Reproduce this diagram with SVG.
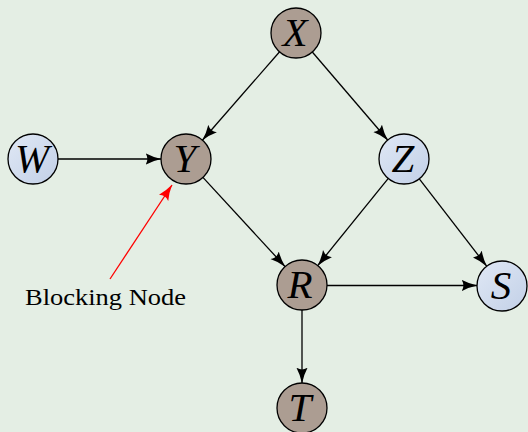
<svg xmlns="http://www.w3.org/2000/svg" width="528" height="432" viewBox="0 0 528 432">
  <defs>
    <linearGradient id="blueFill" x1="0" y1="0" x2="1" y2="1">
      <stop offset="0" stop-color="#e0e8f5"/>
      <stop offset="1" stop-color="#c2d0e7"/>
    </linearGradient>
    <marker id="arrow" viewBox="0 0 16 12" refX="15.5" refY="6" markerWidth="16" markerHeight="12" markerUnits="userSpaceOnUse" orient="auto">
      <path d="M0,0.3 Q7,4.2 16,6 Q7,7.8 0,11.7 Q3.8,6 0,0.3 Z" fill="#000"/>
    </marker>
    <marker id="arrowRed" viewBox="0 0 16 12" refX="15.5" refY="6" markerWidth="16" markerHeight="12" markerUnits="userSpaceOnUse" orient="auto">
      <path d="M0,0.3 Q7,4.2 16,6 Q7,7.8 0,11.7 Q3.8,6 0,0.3 Z" fill="#ff0000"/>
    </marker>
  </defs>
  <style>
    .node circle { stroke: #000; stroke-width: 1.3; }
    .dark circle { fill: #ac9d92; }
    .light circle { fill: url(#blueFill); }
    .node text { font-family: "Liberation Serif", "DejaVu Serif", serif; font-style: italic; font-size: 41px; text-anchor: middle; fill: #000; }
    .edge { stroke: #000; stroke-width: 1.3; fill: none; marker-end: url(#arrow); }
    .label { font-family: "Liberation Serif", "DejaVu Serif", serif; font-size: 23px; fill: #000; }
  </style>

  <rect width="528" height="432" fill="#e4eee4"/>

  <g id="connectors">
    <line class="edge" x1="279.6" y1="51.8" x2="202.4" y2="140.2"/>
    <line class="edge" x1="312.3" y1="52.0" x2="387.7" y2="140.0"/>
    <line class="edge" x1="58" y1="159" x2="161" y2="159"/>
    <line class="edge" x1="202.9" y1="177.4" x2="285.1" y2="266.6"/>
    <line class="edge" x1="388.3" y1="178.4" x2="317.7" y2="265.6"/>
    <line class="edge" x1="419.3" y1="178.8" x2="486.7" y2="266.2"/>
    <line class="edge" x1="327" y1="285.5" x2="477" y2="285.5"/>
    <line class="edge" x1="302" y1="310" x2="302" y2="383"/>
    <line x1="110" y1="279" x2="172" y2="185" stroke="#ff0000" stroke-width="1.3" marker-end="url(#arrowRed)"/>
  </g>

  <g id="node-X" class="node dark">
    <circle cx="296" cy="33" r="25"/>
    <text x="295" y="46">X</text>
  </g>
  <g id="node-W" class="node light">
    <circle cx="33" cy="159" r="25"/>
    <text x="32" y="172">W</text>
  </g>
  <g id="node-Y" class="node dark">
    <circle cx="186" cy="159" r="25"/>
    <text x="185" y="172">Y</text>
  </g>
  <g id="node-Z" class="node light">
    <circle cx="404" cy="159" r="25"/>
    <text x="403" y="172">Z</text>
  </g>
  <g id="node-R" class="node dark">
    <circle cx="302" cy="285" r="25"/>
    <text x="300" y="298">R</text>
  </g>
  <g id="node-S" class="node light">
    <circle cx="502" cy="286" r="25"/>
    <text x="501" y="299">S</text>
  </g>
  <g id="node-T" class="node dark">
    <circle cx="302" cy="408" r="25"/>
    <text x="300" y="421">T</text>
  </g>

  <text class="label" x="25" y="305" textLength="161" lengthAdjust="spacingAndGlyphs">Blocking Node</text>
</svg>
